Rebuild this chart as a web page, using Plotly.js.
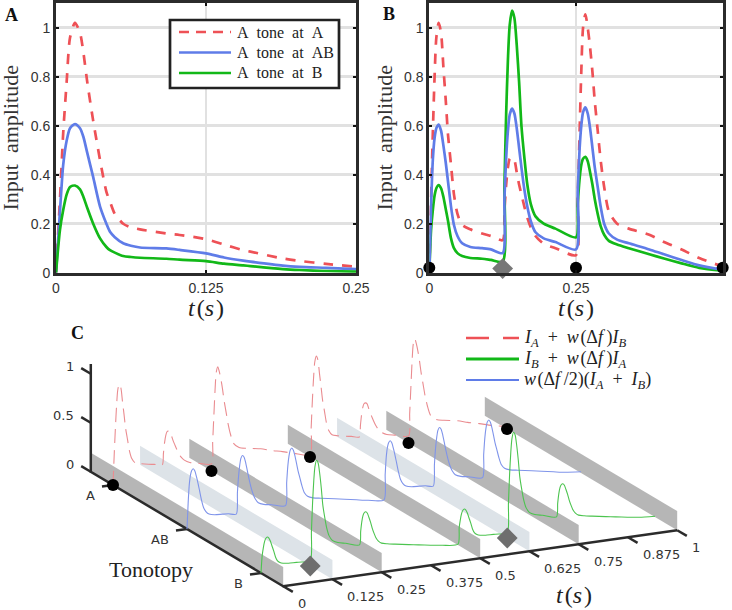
<!DOCTYPE html>
<html><head><meta charset="utf-8">
<script src="https://cdn.plot.ly/plotly-3.0.1.min.js"></script>
<style>html,body{margin:0;padding:0;background:#fff}</style></head>
<body><div id="chart" style="width:732px;height:610px"></div>
<script>
// ---------- Panel A: single A tone ----------
const tA = [0,.0033,.006,.0089,.0117,.0158,.02,.0228,.026,.031,.0367,.042,.045,.049,.056,.0625,.07,.092,.103,.125,.14,.156,.162,.189,.203,.225,.25];
const redA = [0,.3,.57,.78,.96,1.02,.98,.9,.78,.62,.46,.33,.29,.24,.2,.185,.177,.16,.154,.137,.115,.092,.086,.058,.048,.036,.024];
const blueA = [0,.25,.44,.54,.59,.607,.59,.555,.49,.39,.27,.2,.167,.145,.12,.11,.103,.099,.093,.079,.062,.049,.045,.029,.024,.02,.015];
const greenA = [0,.175,.256,.32,.35,.356,.34,.31,.265,.2,.14,.105,.092,.082,.068,.064,.061,.057,.053,.047,.037,.03,.027,.015,.011,.007,.004];

// ---------- Panel B: A-B-A triplet ----------
const tB = [0,.003,.006,.009,.012,.016,.02,.024,.028,.032,.037,.042,.048,.056,.07,.09,.105,.125,
 .128,.131,.134,.137,.141,.145,.149,.153,.157,.162,.167,.173,.181,.195,.215,.25,
 .253,.256,.259,.262,.266,.27,.274,.278,.282,.287,.292,.298,.306,.32,.34,.375,.4,.43,.46,.5];
const redB = [0,.3,.57,.8,.96,1.02,.98,.84,.705,.56,.44,.32,.24,.195,.177,.16,.15,.133,
 .25,.36,.43,.465,.472,.46,.41,.36,.32,.27,.225,.185,.15,.118,.1,.072,
 .3,.56,.82,1.0,1.055,1.0,.92,.82,.7,.58,.46,.35,.25,.2,.18,.155,.125,.095,.06,.025];
const blueB = [0,.27,.46,.55,.59,.605,.58,.52,.45,.37,.27,.195,.15,.12,.105,.1,.095,.08,
 .3,.47,.58,.645,.67,.65,.59,.51,.43,.34,.27,.21,.165,.14,.125,.095,
 .33,.5,.6,.655,.675,.65,.59,.51,.43,.35,.27,.2,.16,.135,.12,.095,.075,.052,.03,.012];
const greenB = [0,.175,.256,.315,.345,.358,.345,.31,.26,.21,.14,.1,.08,.068,.06,.057,.052,.045,
 .35,.65,.87,1.01,1.07,1.04,.93,.78,.6,.47,.36,.28,.23,.2,.18,.144,
 .28,.38,.44,.465,.473,.455,.41,.36,.3,.24,.19,.155,.13,.115,.1,.075,.058,.038,.02,.008];

// ---------- Panel C: tones and axes ----------
const aToneTimes = [0,.25,.5,.75,1];
const bToneTimes = [.125,.625];
const tonoLabels = ['A','AB','B'];
const tonoValues = [1,2,3];
const zTicks = [0,.5,1];
const zTickLabels = ['0','0.5','1'];
const tTicks = [0,.125,.25,.375,.5,.625,.75,.875,1];
const tTickLabels = ['0','0.125','0.25','0.375','0.5','0.625','0.75','0.875','1'];
const darkWalls = [0,.25,.5,.75,1];
const lightWalls = [.125,.625];
const wallHeight = .195;
const uBack = .7, uFront = 3.3, zTop = 1.1;
const legendA = ['A\u00a0\u00a0tone\u00a0\u00a0at\u00a0\u00a0A','A\u00a0\u00a0tone\u00a0\u00a0at\u00a0\u00a0AB','A\u00a0\u00a0tone\u00a0\u00a0at\u00a0\u00a0B'];
const legendC = ['<i>I<sub>A</sub></i>\u00a0\u00a0+\u00a0\u00a0<i>w</i>\u200a(Δ<i>f</i>\u2009)<i>I<sub>B</sub></i>','<i>I<sub>B</sub></i>\u00a0\u00a0+\u00a0\u00a0<i>w</i>\u200a(Δ<i>f</i>\u2009)<i>I<sub>A</sub></i>','<i>w</i>\u200a(Δ<i>f</i>\u2009/2)(<i>I<sub>A</sub></i>\u00a0\u00a0+\u00a0\u00a0<i>I<sub>B</sub></i>)'];

const W = 732, H = 610;
const RED = '#ee5156', BLUE = '#5f7ce8', GREEN = '#12b818', INK = '#2b2b2b';
const RED3 = '#ea8c90', BLUE3 = '#7f94ea', GREEN3 = '#4cc44f';
const SMOOTH = {shape:'spline',smoothing:.7};

function project(t,u,z){ return [113+394*t+74*(u-1), 485-56*t+44*(u-1)-98*z]; }
function path3(pts){ const x=[],y=[]; pts.forEach(p=>{ if(p===null){x.push(null);y.push(null);} else {const q=project(p[0],p[1],p[2]);x.push(q[0]);y.push(q[1]);} }); return {x,y}; }
function c3(pts,extra){ return Object.assign({type:'scatter',mode:'lines',xaxis:'x3',yaxis:'y3',showlegend:false,hoverinfo:'skip',cliponaxis:false},path3(pts),extra); }
function repeated(vals,u){ const pts=[]; tB.forEach((t,i)=>pts.push([t,u,vals[i]])); tB.forEach((t,i)=>{ if(i>0) pts.push([t+.5,u,vals[i]]); }); return pts; }

const traces = [];
function line2d(x,y,col,ax,ay,name,dash){ return {type:'scatter',mode:'lines',x,y,name,line:Object.assign({color:col,width:2.7,dash:dash||'solid'},SMOOTH),xaxis:ax,yaxis:ay,showlegend:false}; }
traces.push(line2d(tA,redA,RED,'x','y','A tone at A','10px,9px'));
traces.push(line2d(tA,blueA,BLUE,'x','y','A tone at AB'));
traces.push(line2d(tA,greenA,GREEN,'x','y','A tone at B'));
traces.push(line2d(tB,redB,RED,'x2','y2','A tone at A','10px,9px'));
traces.push(line2d(tB,greenB,GREEN,'x2','y2','A tone at B'));
traces.push(line2d(tB,blueB,BLUE,'x2','y2','A tone at AB'));
traces.push({type:'scatter',mode:'markers',x:aToneTimes.filter(t=>t<=.5),y:aToneTimes.filter(t=>t<=.5).map(()=>.02),marker:{color:'#000',size:12},xaxis:'x2',yaxis:'y2',showlegend:false,cliponaxis:false});
traces.push({type:'scatter',mode:'markers',x:bToneTimes.filter(t=>t<=.5),y:bToneTimes.filter(t=>t<=.5).map(()=>.017),marker:{color:'#777',size:16,symbol:'diamond'},xaxis:'x2',yaxis:'y2',showlegend:false,cliponaxis:false});

// Panel C walls (back to front in t)
const wallTimes = darkWalls.map(t=>[t,'#b6b6b6']).concat(lightWalls.map(t=>[t,'#dde3e8'])).sort((a,b)=>b[0]-a[0]);
wallTimes.forEach(([t,col])=>{
  traces.push(c3([[t,uBack,wallHeight],[t,uFront,wallHeight],[t,uFront,0],[t,uBack,0],[t,uBack,wallHeight]],{fill:'toself',fillcolor:col,line:{width:0}}));
});
// Panel C axes
traces.push(c3([[0,uBack,zTop],[0,uBack,0],[0,uFront,0],[1,uFront,0]],{line:{color:INK,width:2.5}}));
const tickPts=[];
zTicks.forEach(z=>tickPts.push([0,uBack,z],[0,uBack-.13,z],null));
tonoValues.forEach(u=>tickPts.push([0,u,0],[-.028,u,0],null));
tTicks.forEach(t=>tickPts.push([t,uFront,0],[t,uFront+.13,0],null));
traces.push(c3(tickPts,{line:{color:INK,width:2.5}}));
// Panel C curves
traces.push(c3(repeated(redB,1),{name:'I_A + w(Δf)I_B',line:Object.assign({color:RED3,width:1.1,dash:'14px,7px'},SMOOTH)}));
traces.push(c3(repeated(blueB,2),{name:'w(Δf/2)(I_A + I_B)',line:Object.assign({color:BLUE3,width:1.1},SMOOTH)}));
traces.push(c3(repeated(greenB,3),{name:'I_B + w(Δf)I_A',line:Object.assign({color:GREEN3,width:1.1},SMOOTH)}));
// Panel C tone markers
traces.push(c3(aToneTimes.map(t=>[t,1,0]),{mode:'markers',marker:{color:'#000',size:12}}));
traces.push(c3(bToneTimes.map(t=>[t,3,0]),{mode:'markers',marker:{color:'#6e6e6e',size:16,symbol:'diamond'}}));

function xdom(a,b){return [a/W,b/W];}
function ydom(top,bot){return [1-bot/H,1-top/H];}
const SERIF='"Liberation Serif", serif', SANS='"Liberation Sans", Arial, sans-serif', DJ='"DejaVu Sans", sans-serif';
const axisBase={showline:true,linecolor:INK,linewidth:3,mirror:'ticks',ticks:'inside',ticklen:3,tickwidth:2,tickcolor:'#111',
  showgrid:true,gridcolor:'#e1e1e1',gridwidth:2.6,zeroline:false,tickfont:{family:SANS,size:14,color:'#333'},fixedrange:true};
const yTickVals=[0,.2,.4,.6,.8,1], yTickText=['0','0.2','0.4','0.6','0.8','1'];
function yAxis(dom,anchor){return Object.assign({},axisBase,{domain:dom,anchor,range:[0,1.1],tickvals:yTickVals,ticktext:yTickText});}
function xAxis(dom,anchor,range,tv,tt){return Object.assign({},axisBase,{domain:dom,anchor,range,tickvals:tv,ticktext:tt,
  title:{text:'<i>t</i>\u200a(<i>s</i>\u200a)',font:{family:SERIF,size:24,color:'#222'},standoff:4}});}

const ann=[], shapes=[];
function letter(t,x,y){ann.push({text:'<b>'+t+'</b>',xref:'paper',yref:'paper',x:x/W,y:1-y/H,showarrow:false,xanchor:'center',yanchor:'middle',font:{family:SERIF,size:18,color:'#111'}});}
letter('A',11,15);letter('B',389,14);letter('C',77,333);
[10.5,384.5].forEach(x=>ann.push({text:'Input\u00a0\u00a0amplitude',textangle:-90,xref:'paper',yref:'paper',x:x/W,y:1-138/H,showarrow:false,xanchor:'center',yanchor:'middle',font:{family:SERIF,size:22,color:'#333'}}));
function lab(text,px,py,xa,font){ann.push({text,xref:'x3',yref:'y3',x:px,y:py,showarrow:false,xanchor:xa,yanchor:'middle',font:font||{family:DJ,size:13,color:'#333'}});}
zTicks.forEach((z,i)=>{const p=project(0,uBack,z);lab(zTickLabels[i],p[0]-15,p[1]-7.5,'right');});
tonoValues.forEach((u,i)=>{const p=project(0,u,0);lab(tonoLabels[i],p[0]-16.5,p[1]+10.5,'right');});
tTicks.forEach((t,i)=>{const p=project(t,uFront,0);lab(tTickLabels[i],p[0]+13,p[1]+17,'left');});
lab('Tonotopy',151,569,'center',{family:SERIF,size:22,color:'#222'});
lab('<i>t</i>\u200a(<i>s</i>\u200a)',574,595,'center',{family:SERIF,size:24,color:'#222'});

// legends
function pageLine(x0,x1,y,col,w,dash){shapes.push({type:'line',layer:'above',xref:'paper',yref:'paper',x0:x0/W,x1:x1/W,y0:1-y/H,y1:1-y/H,line:{color:col,width:w,dash:dash||'solid'}});}
function pageText(text,x,y,size){ann.push({text,xref:'paper',yref:'paper',x:x/W,y:1-y/H,showarrow:false,xanchor:'left',yanchor:'middle',font:{family:SERIF,size,color:'#222'}});}
shapes.push({type:'rect',layer:'above',xref:'paper',yref:'paper',x0:170/W,x1:339/W,y0:1-88/H,y1:1-20/H,fillcolor:'#fff',line:{color:'#222',width:2.7}});
[[RED,'10px,7px'],[BLUE],[GREEN]].forEach((k,i)=>{const y=32+20.5*i;pageLine(179,231,y,k[0],2.7,k[1]);pageText(legendA[i],235,y,16);});
[[RED,2.7,'23px,14px'],[GREEN,3],[BLUE,1.8]].forEach((k,i)=>{const y=338+21*i;pageLine(466,519,y,k[0],k[1],k[2]);pageText(legendC[i],522,y,18);});

const layout={width:W,height:H,margin:{l:0,r:0,t:0,b:0},paper_bgcolor:'#fff',plot_bgcolor:'rgba(0,0,0,0)',hovermode:false,showlegend:false,
  xaxis:xAxis(xdom(56,356),'y',[0,.25],[0,.125,.25],['0','0.125','0.25']),
  yaxis:yAxis(ydom(3.3,272.7),'x'),
  xaxis2:xAxis(xdom(429.3,722.7),'y2',[0,.5],[0,.25,.5],['0','0.25','0.5']),
  yaxis2:yAxis(ydom(3.3,272.7),'x2'),
  xaxis3:{domain:[0,1],range:[0,W],visible:false,anchor:'y3',fixedrange:true},
  yaxis3:{domain:ydom(325,610),range:[610,325],visible:false,anchor:'x3',fixedrange:true},
  annotations:ann,shapes};
Plotly.newPlot('chart',traces,layout,{staticPlot:true,displayModeBar:false});
</script></body></html>
